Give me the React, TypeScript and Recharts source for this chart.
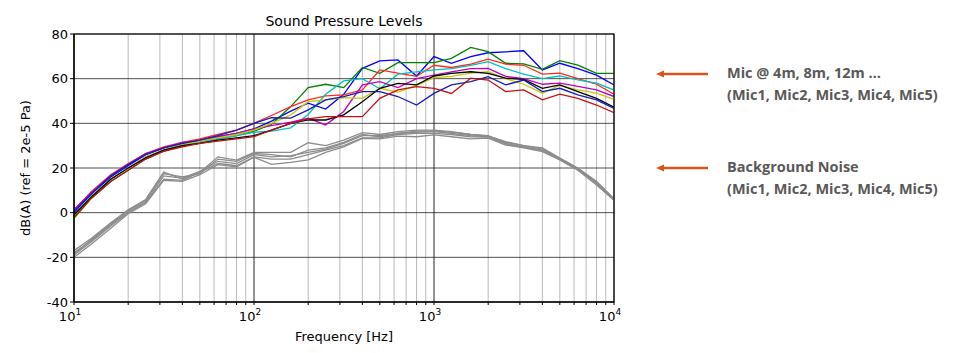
import React from 'react';
import { LineChart, Line, XAxis, YAxis, CartesianGrid, ReferenceLine } from 'recharts';

// 1/3-octave band centre frequencies [Hz]
const FREQS = [10, 12.5, 16, 20, 25, 31.5, 40, 50, 63, 80, 100, 125, 160, 200, 250, 315, 400, 500, 630, 800, 1000, 1250, 1600, 2000, 2500, 3150, 4000, 5000, 6300, 8000, 10000];

// mic runs, dB(A)
const blueA = [0, 8.5, 16, 21, 26, 29, 31, 32.5, 34, 35.5, 37.5, 41, 45.5, 49, 46.4, 53, 64.6, 68, 68.4, 61.2, 69.9, 66.9, 69.9, 71.6, 72, 72.5, 63.9, 66.9, 64.5, 61.6, 57.2];
const green = [-2.5, 6.5, 14, 19, 24, 27.5, 30, 31.5, 33, 34.5, 36.5, 39.5, 47.5, 56, 57.5, 56, 65, 62.4, 67.2, 67.2, 67.2, 69.1, 74, 72.1, 66.9, 66.6, 64.2, 68.1, 66.1, 62.4, 62.4];
const redA = [1, 9.5, 17, 22, 26.5, 29.5, 31.5, 33, 35, 37, 40, 43.5, 47.5, 50.5, 52.3, 52.7, 55, 63.9, 62.5, 61, 66, 65, 66.5, 68.7, 66.5, 66, 62, 62.5, 60, 57.5, 53];
const cyan = [-1, 7.5, 15, 20, 25, 28, 30.5, 31.5, 33, 34.5, 36, 36.5, 38, 44, 53, 59, 60, 55.5, 62, 63, 63.9, 64.5, 66, 67.6, 64.5, 62, 60, 61.2, 59.5, 58, 54.9];
const magenta = [1.5, 9, 16.5, 21.5, 26.5, 29, 31.5, 32, 34, 35.5, 37.5, 39, 40.5, 42.3, 39.3, 45.3, 57.2, 58.7, 56, 60, 61.6, 63, 64.5, 64.6, 61, 60, 57.5, 58, 56.5, 55, 52];
const yellow = [-1.5, 7, 15, 20, 25, 28, 30.5, 32, 33.5, 35, 37, 40, 43.8, 49.7, 50.5, 51.5, 51.2, 55.7, 54, 57, 60.5, 61, 62.5, 63.1, 60, 57.5, 53.5, 57, 55, 53.5, 50.7];
const black = [-1, 7, 15, 20, 24.5, 28, 30, 31, 32.5, 33.5, 34.5, 37, 40, 41.5, 41.5, 43.8, 49.7, 55.7, 57.9, 57.2, 61.2, 62.4, 63.1, 62.4, 60.2, 59.7, 55.7, 57.2, 54.2, 51.2, 47.2];
const blueB = [0.5, 8.5, 16.5, 21.5, 26, 29, 31, 32.5, 34.5, 37, 40, 42.5, 42.3, 46, 50.5, 52, 54.2, 54.2, 52, 48.2, 53.4, 57.2, 58.7, 60.9, 57.2, 59.4, 54.2, 55.7, 52.7, 50.5, 46.7];
const redB = [-2, 6.5, 14, 19, 24, 27.5, 29.5, 31, 32, 33, 34, 37, 40, 42, 43, 43, 43, 51.2, 55, 56.4, 55.7, 53.4, 60.2, 59.4, 54.2, 55, 50.5, 53.1, 51.2, 48.2, 44.8];

// background noise runs
const bg1 = [-17, -11.5, -4.5, 1.3, 5.9, 18.2, 15, 18, 25, 23.5, 27, 27, 27, 31.3, 30, 32.5, 35.8, 35, 36.3, 37, 37, 36.3, 35, 34.3, 31.8, 30, 29, 24.5, 20, 14, 6.3];
const bg2 = [-18, -12.5, -5.5, 0.5, 5, 16.5, 15.5, 18.5, 23, 22, 26, 25, 25.5, 27, 28.5, 31, 34.5, 34.5, 35.5, 36, 36.3, 35.5, 34.5, 34, 31, 29.5, 28, 24, 19.5, 13.5, 5.8];
const bg3 = [-19, -13, -6, 0, 4.5, 15, 14.5, 18, 22, 21, 25, 24, 24, 26, 28, 30, 33.5, 33.5, 35, 35.5, 35.5, 35, 34, 33.8, 30.8, 29.3, 27.8, 23.8, 19.2, 13, 5.5];
const bg4 = [-18.5, -12, -5, 1, 5.5, 17.5, 16, 17.5, 24, 23, 26.5, 26, 25, 28, 29, 31.5, 35, 34, 35.5, 36.5, 36.5, 36, 35, 34.5, 31.5, 30, 28.5, 24.3, 19.8, 13.8, 6];
const bg5 = [-20, -14, -7, -0.5, 4, 14.5, 14, 17, 21.5, 20.5, 24.8, 21.6, 22.5, 23.6, 27, 29.5, 33.3, 33, 34.3, 34, 34.8, 34, 33, 33.4, 30.3, 29, 27.3, 23.6, 19, 12.4, 5.5];

const X_MAJOR = [10, 100, 1000, 10000];
const X_TICKS = [10, 20, 30, 40, 50, 60, 70, 80, 90, 100, 200, 300, 400, 500, 600, 700, 800, 900, 1000, 2000, 3000, 4000, 5000, 6000, 7000, 8000, 9000, 10000];
const Y_TICKS = [-40, -20, 0, 20, 40, 60, 80];

const SERIES = [
  { key: 'blueA', values: blueA, color: '#0000ff' },
  { key: 'green', values: green, color: '#008000' },
  { key: 'redA', values: redA, color: '#ff2a1a' },
  { key: 'cyan', values: cyan, color: '#00bfbf' },
  { key: 'magenta', values: magenta, color: '#c000c0' },
  { key: 'yellow', values: yellow, color: '#c8c800' },
  { key: 'black', values: black, color: '#000000' },
  { key: 'blueB', values: blueB, color: '#1a1ab8' },
  { key: 'redB', values: redB, color: '#c41010' },
];
const BG = [bg1, bg2, bg3, bg4, bg5];

const data = FREQS.map((f, i) => {
  const row: Record<string, number> = { f };
  SERIES.forEach(s => { row[s.key] = s.values[i]; });
  BG.forEach((b, j) => { row['bg' + j] = b[i]; });
  return row;
});

const FONT = 'DejaVu Sans';

function XTick({ x, y, payload }: any) {
  if (!X_MAJOR.includes(payload.value)) return null;
  const exp = Math.round(Math.log10(payload.value));
  return (
    <text x={x - 4} y={y + 14} textAnchor="middle" fontFamily={FONT} fontSize={13} fill="#000">
      10<tspan dy={-6} fontSize={9}>{exp}</tspan>
    </text>
  );
}

const ORANGE = '#d9531e';

function Arrow({ y }: { y: number }) {
  return (
    <g>
      <line x1={662} y1={y} x2={708} y2={y} stroke={ORANGE} strokeWidth={2.5} />
      <polygon points={`${656},${y} ${664},${y - 3.5} ${664},${y + 3.5}`} fill={ORANGE} />
    </g>
  );
}

export default function App() {
  return (
    <div style={{ position: 'absolute', left: 0, top: 0, width: 957, height: 353, background: '#fff' }}>
      <LineChart width={957} height={353} data={data} margin={{ top: 34, right: 343, bottom: 0, left: 0 }}>
        <CartesianGrid stroke="#a8a8a8" strokeWidth={0.8} horizontal={false} />
        <CartesianGrid stroke="#222" strokeWidth={0.8} vertical={false} />
        <XAxis dataKey="f" type="number" scale="log" domain={[10, 10000]} ticks={X_TICKS} allowDataOverflow
          height={51} tick={<XTick />} tickLine={{ stroke: '#000' }} tickSize={3} axisLine={{ stroke: '#000' }} interval={0} />
        <YAxis type="number" domain={[-40, 80]} ticks={Y_TICKS} width={74} interval={0}
          tick={{ fontFamily: FONT, fontSize: 13, fill: '#000' }} tickLine={{ stroke: '#000' }} tickSize={4}
          axisLine={{ stroke: '#000' }} />
        {X_MAJOR.map(v => (
          <ReferenceLine key={'mx' + v} x={v} stroke="#222" strokeWidth={0.8} />
        ))}
        {BG.map((_, j) => (
          <Line key={'bg' + j} dataKey={'bg' + j} stroke="#8c8c8c" strokeWidth={1.3} dot={false} isAnimationActive={false} />
        ))}
        {SERIES.map(s => (
          <Line key={s.key} dataKey={s.key} stroke={s.color} strokeWidth={1.3} dot={false} isAnimationActive={false} />
        ))}
      </LineChart>
      <svg width={957} height={353} style={{ position: 'absolute', left: 0, top: 0, pointerEvents: 'none' }}>
        <rect x={74} y={34} width={540} height={268} fill="none" stroke="#000" strokeWidth={1} />
        <text x={344} y={26} textAnchor="middle" fontFamily={FONT} fontSize={14} fill="#000">Sound Pressure Levels</text>
        <text x={344} y={341} textAnchor="middle" fontFamily={FONT} fontSize={13} fill="#000">Frequency [Hz]</text>
        <text transform="translate(30,168) rotate(-90)" textAnchor="middle" fontFamily={FONT} fontSize={13} fill="#000">dB(A) (ref = 2e-5 Pa)</text>
        <Arrow y={74} />
        <Arrow y={168} />
        <g fontFamily="Open Sans" fontWeight={700} fontSize={14.5} fill="#595959">
          <text x={727} y={78}>Mic @ 4m, 8m, 12m …</text>
          <text x={727} y={100}>(Mic1, Mic2, Mic3, Mic4, Mic5)</text>
          <text x={727} y={172}>Background Noise</text>
          <text x={727} y={194}>(Mic1, Mic2, Mic3, Mic4, Mic5)</text>
        </g>
      </svg>
    </div>
  );
}
